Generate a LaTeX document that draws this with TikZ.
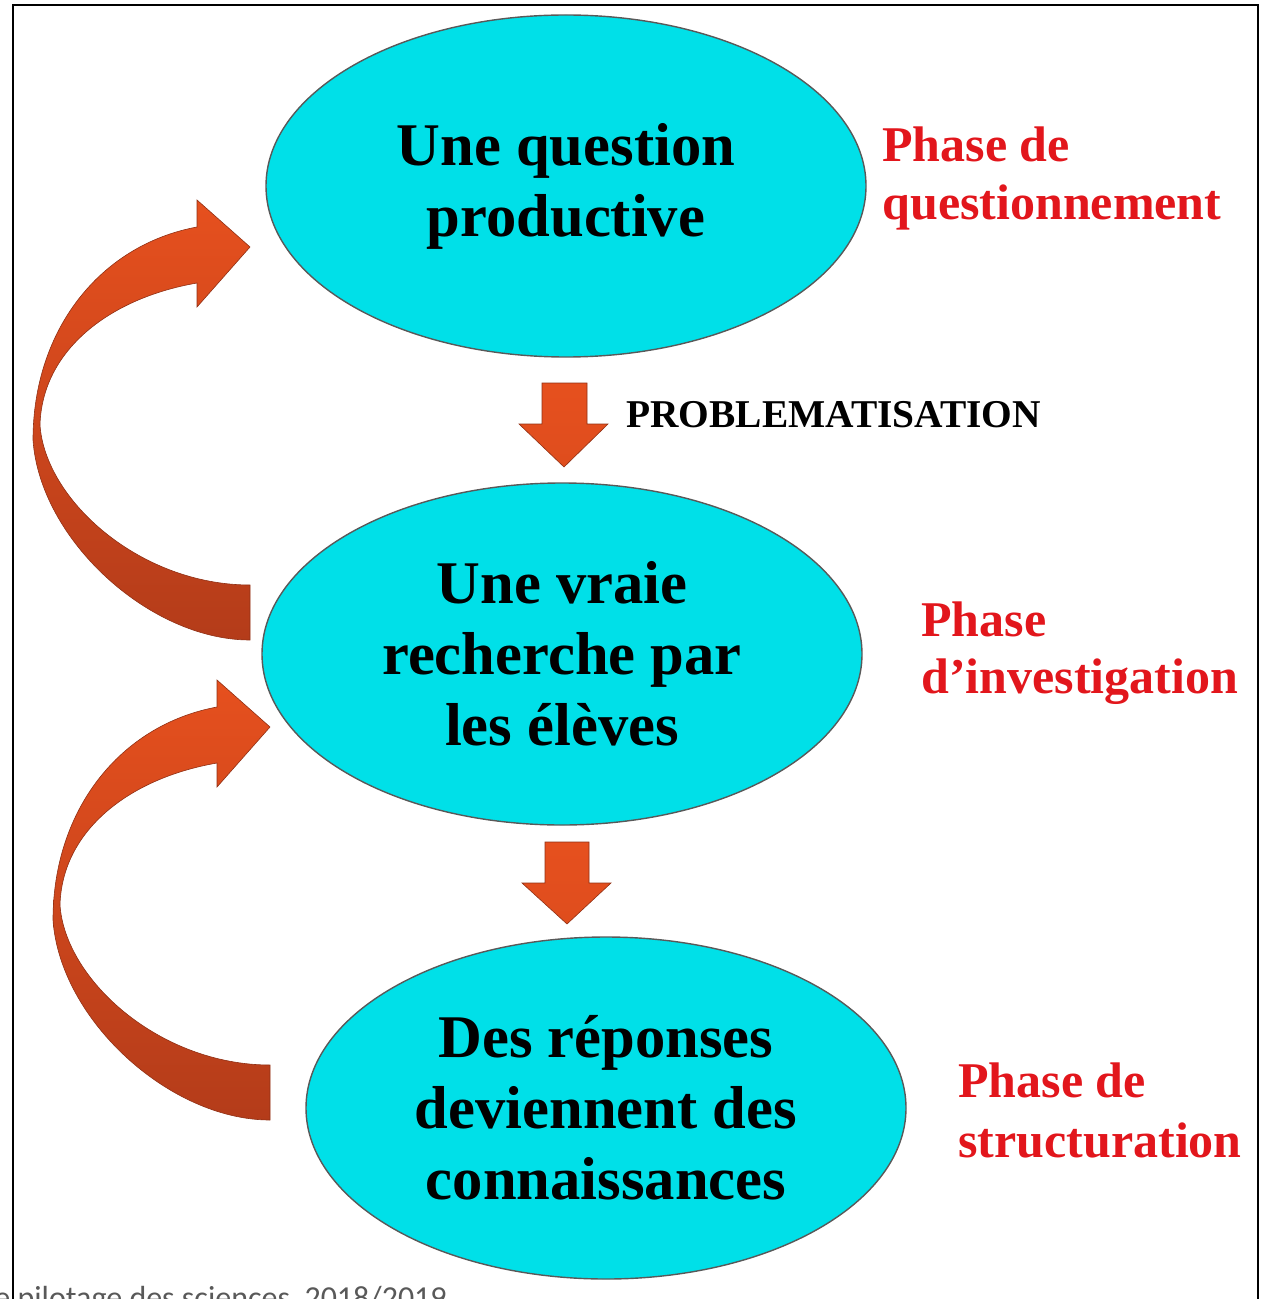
\documentclass[tikz,border=0pt]{standalone}
\usepackage{fontspec}
\setmainfont{Liberation Serif}
\newfontfamily\piedfont{Carlito}
\usetikzlibrary{shapes.geometric}

\definecolor{bulle}{RGB}{0,224,232}
\definecolor{rouge}{RGB}{226,22,28}
\definecolor{flecheclair}{RGB}{230,80,30}
\definecolor{flechefonce}{RGB}{180,60,26}

\tikzset{
  bulle/.style={ellipse,draw=black!65,line width=0.7pt,fill=bulle,
    minimum width=300pt,minimum height=171pt,inner sep=0pt,align=center,
    font=\bfseries\fontsize{30.3}{35.5}\selectfont},
  phase/.style={anchor=base west,inner sep=0pt,text=rouge,
    font=\bfseries\fontsize{25}{29}\selectfont},
  fleche/.style={draw=flechefonce!80!black,line width=0.3pt,
    top color=flecheclair,bottom color=flechefonce},
  flechebas/.style={draw=flechefonce!80!black,line width=0.3pt,
    top color=flecheclair,bottom color=flecheclair!85!flechefonce}
}

\begin{document}
\begin{tikzpicture}[x=0.5pt,y=-0.5pt]
\useasboundingbox (0,0) rectangle (1268,1299);

%cadre
\path[draw=black,line width=1.2pt] (13,1320) -- (13,5) -- (1258,5) -- (1258,1320);
\node[anchor=base west,inner sep=0pt,text=black!65,font=\piedfont\fontsize{16}{19}\selectfont] (pied) at (-6,1308) {e pilotage des sciences\ \ 2018/2019};

%bulles
\node[bulle] (q1) at (566,186) {Une question\\productive};
\node[bulle] (q2) at (562,654) {Une vraie\\recherche par\\les élèves};
\node[bulle] (q3) at (606,1108) {Des réponses\\deviennent des\\connaissances};

%phases
\node[phase] (p1a) at (882,162) {Phase de};
\node[phase] (p1b) at (882,220) {questionnement};
\node[phase] (p2a) at (921,636) {Phase};
\node[phase] (p2b) at (921,693) {d’investigation};
\node[phase] (p3a) at (958,1097) {Phase de};
\node[phase] (p3b) at (958,1157) {structuration};

%fleches vers le bas
\path[flechebas] (542,383) -- (587,383) -- (587,424) -- (608,424) -- (564,467) -- (519,424) -- (542,424) -- cycle;
\node[anchor=base west,inner sep=0pt,font=\bfseries\fontsize{19.7}{24}\selectfont] (pb) at (626,427) {PROBLEMATISATION};
\path[flechebas] (545,842) -- (589,842) -- (589,883) -- (611,883) -- (567,924) -- (522,883) -- (545,883) -- cycle;

%fleches courbes
\path[fleche] (250,640) .. controls (150,640) and (40,540) .. (33,440)
  .. controls (33,330) and (100,245) .. (197,227) -- (197,200) -- (250,247) -- (197,307) -- (197,283)
  .. controls (110,298) and (42,350) .. (40,425)
  .. controls (45,500) and (140,585) .. (250,585) -- cycle;
\begin{scope}[shift={(20,480)}]
\path[fleche] (250,640) .. controls (150,640) and (40,540) .. (33,440)
  .. controls (33,330) and (100,245) .. (197,227) -- (197,200) -- (250,247) -- (197,307) -- (197,283)
  .. controls (110,298) and (42,350) .. (40,425)
  .. controls (45,500) and (140,585) .. (250,585) -- cycle;
\end{scope}

\end{tikzpicture}
\end{document}
